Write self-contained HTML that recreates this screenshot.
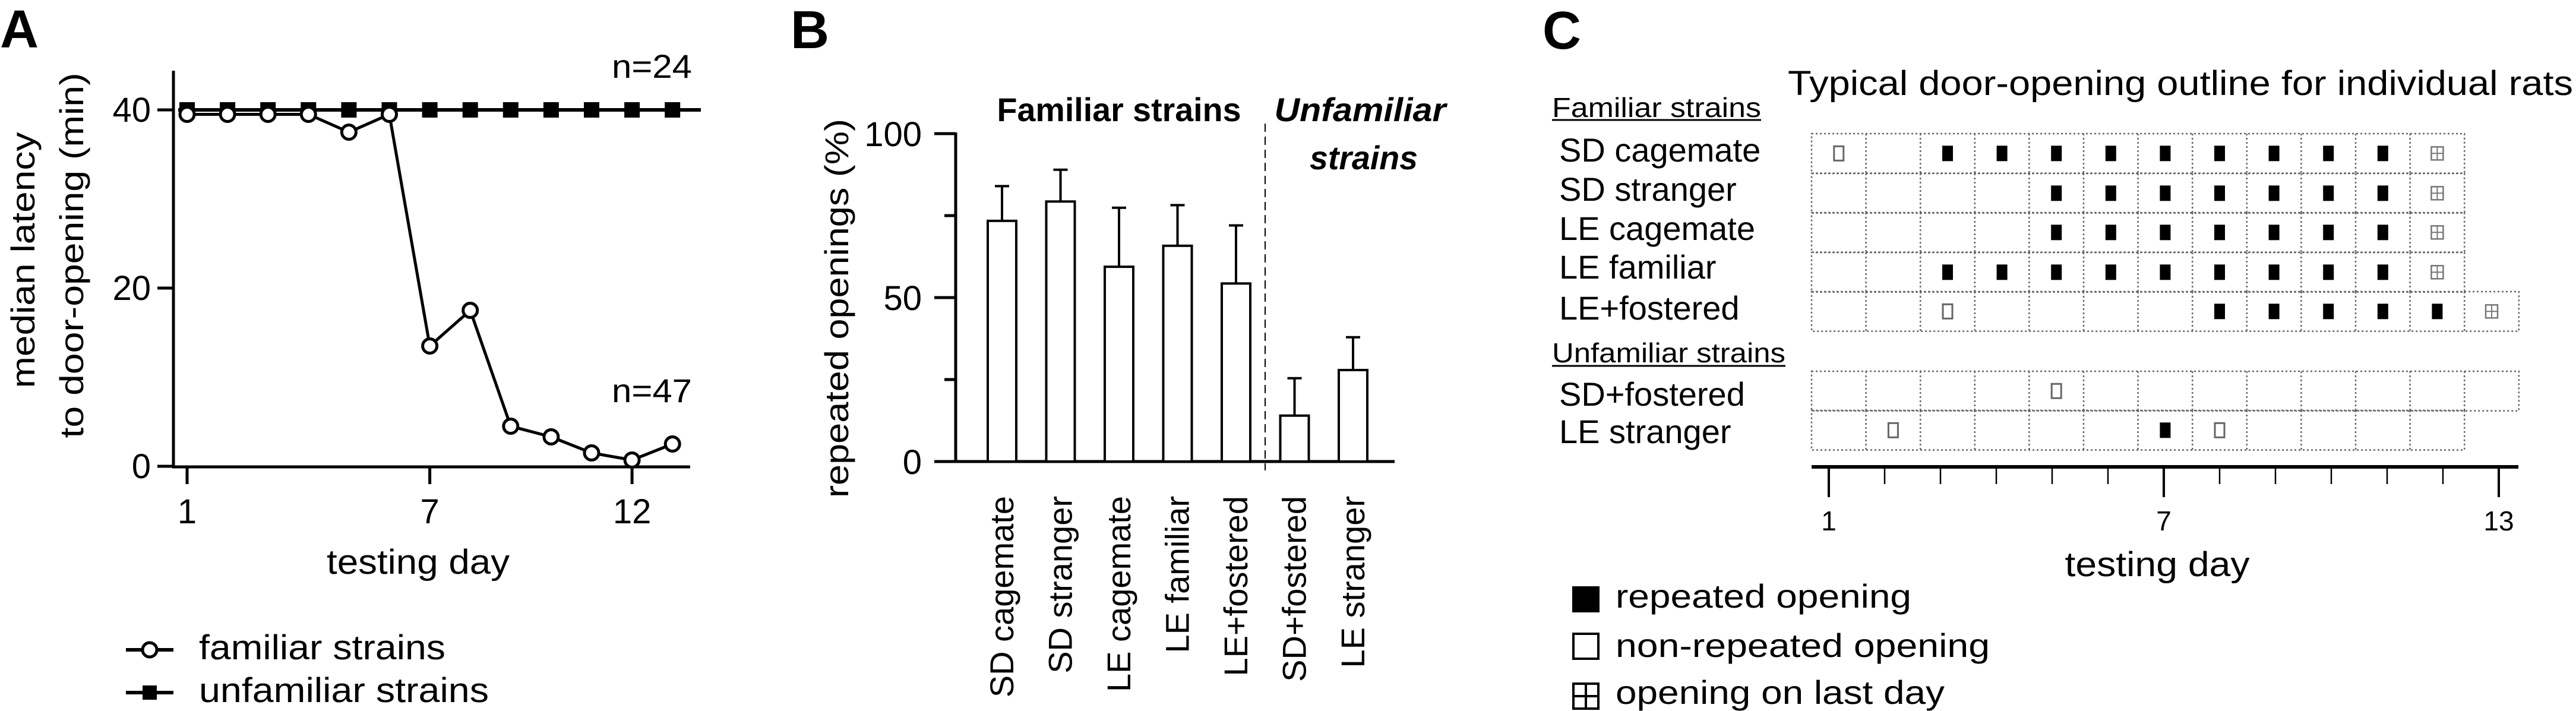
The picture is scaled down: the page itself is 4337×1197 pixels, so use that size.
<!DOCTYPE html>
<html><head><meta charset="utf-8"><style>
html,body{margin:0;padding:0;background:#fff;}
svg{display:block;font-family:"Liberation Sans",sans-serif;}
</style></head><body>
<svg id="fig" width="4337" height="1197" viewBox="0 0 4337 1197" xmlns="http://www.w3.org/2000/svg">
<rect width="4337" height="1197" fill="#fff"/>
<!-- Panel A static -->
<g id="panelA">
<text x="0" y="80" font-size="90" font-weight="bold">A</text>
<line x1="292" y1="119" x2="292" y2="788" stroke="#000" stroke-width="5"/>
<line x1="290" y1="786" x2="1162" y2="786" stroke="#000" stroke-width="5"/>
<text transform="translate(58,438) rotate(-90)" text-anchor="middle" font-size="56" textLength="431" lengthAdjust="spacingAndGlyphs">median latency</text>
<text transform="translate(140,430) rotate(-90)" text-anchor="middle" font-size="56" textLength="615" lengthAdjust="spacingAndGlyphs">to door-opening (min)</text>
<text x="704" y="966" text-anchor="middle" font-size="58" textLength="308" lengthAdjust="spacingAndGlyphs">testing day</text>
<text x="1030" y="131" font-size="56" textLength="135" lengthAdjust="spacingAndGlyphs">n=24</text>
<text x="1030" y="677" font-size="56" textLength="135" lengthAdjust="spacingAndGlyphs">n=47</text>
<g>
<line x1="212" y1="1094" x2="292" y2="1094" stroke="#000" stroke-width="6"/>
<circle cx="252" cy="1094" r="12" fill="#fff" stroke="#000" stroke-width="5"/>
<text x="335" y="1110" font-size="58" textLength="415" lengthAdjust="spacingAndGlyphs">familiar strains</text>
<line x1="212" y1="1166" x2="292" y2="1166" stroke="#000" stroke-width="6"/>
<rect x="240" y="1154" width="24" height="24" fill="#000"/>
<text x="335" y="1182" font-size="58" textLength="488" lengthAdjust="spacingAndGlyphs">unfamiliar strains</text>
</g>
</g>
<!-- Panel B static -->
<g id="panelB">
<text x="1331" y="81" font-size="90" font-weight="bold">B</text>
<line x1="1609" y1="223" x2="1609" y2="779" stroke="#000" stroke-width="5"/>
<line x1="1607" y1="777" x2="2348" y2="777" stroke="#000" stroke-width="5"/>
<line x1="2130" y1="208" x2="2130" y2="792" stroke="#000" stroke-width="2" stroke-dasharray="14,8"/>
<text transform="translate(1428,519) rotate(-90)" text-anchor="middle" font-size="56" textLength="638" lengthAdjust="spacingAndGlyphs">repeated openings (%)</text>
<text x="1884" y="204" text-anchor="middle" font-size="56" font-weight="bold" textLength="411" lengthAdjust="spacingAndGlyphs">Familiar strains</text>
<text x="2290" y="204" text-anchor="middle" font-size="56" font-weight="bold" font-style="italic" textLength="289" lengthAdjust="spacingAndGlyphs">Unfamiliar</text>
<text x="2296" y="285" text-anchor="middle" font-size="56" font-weight="bold" font-style="italic" textLength="182" lengthAdjust="spacingAndGlyphs">strains</text>
</g>
<!-- Panel C static -->
<g id="panelC">
<text x="2597" y="82" font-size="90" font-weight="bold">C</text>
<text x="3010" y="160" font-size="58" textLength="1322" lengthAdjust="spacingAndGlyphs">Typical door-opening outline for individual rats</text>
<text x="2613" y="197" font-size="46" textLength="352" lengthAdjust="spacingAndGlyphs">Familiar strains</text>
<line x1="2613" y1="202" x2="2965" y2="202" stroke="#000" stroke-width="3"/>
<text x="2613" y="610" font-size="46" textLength="393" lengthAdjust="spacingAndGlyphs">Unfamiliar strains</text>
<line x1="2613" y1="616" x2="3006" y2="616" stroke="#000" stroke-width="3"/>
<line x1="3050" y1="786" x2="4240" y2="786" stroke="#000" stroke-width="6"/>
<text x="3632" y="970" text-anchor="middle" font-size="58" textLength="311" lengthAdjust="spacingAndGlyphs">testing day</text>
<g>
<rect x="2647" y="987" width="46" height="44" fill="#000"/>
<text x="2720" y="1023" font-size="56" textLength="498" lengthAdjust="spacingAndGlyphs">repeated opening</text>
<rect x="2649" y="1067" width="42" height="42" fill="#fff" stroke="#000" stroke-width="4"/>
<text x="2720" y="1106" font-size="56" textLength="630" lengthAdjust="spacingAndGlyphs">non-repeated opening</text>
<rect x="2649" y="1151" width="42" height="42" fill="#fff" stroke="#000" stroke-width="4"/>
<line x1="2670" y1="1151" x2="2670" y2="1193" stroke="#000" stroke-width="4"/>
<line x1="2649" y1="1172" x2="2691" y2="1172" stroke="#000" stroke-width="4"/>
<text x="2720" y="1185" font-size="56" textLength="554" lengthAdjust="spacingAndGlyphs">opening on last day</text>
</g>
</g>
</svg>
<script>
// ---------- Panel A data ----------
const aDays = [1,2,3,4,5,6,7,8,9,10,11,12,13];
const aFamiliar = [39.5,39.5,39.5,39.5,37.5,39.5,13.5,17.5,4.5,3.3,1.5,0.7,2.5];
const aUnfamiliar = [40,40,40,40,40,40,40,40,40,40,40,40,40];
const aYTicks = [0,20,40];
const aXTicks = [1,7,12];
// ---------- Panel B data ----------
const bCategories = ["SD cagemate","SD stranger","LE cagemate","LE familiar","LE+fostered","SD+fostered","LE stranger"];
const bValues = [73.4,79.3,59.4,65.8,54.3,14,27.9];
const bErrors = [10.6,9.7,18,12.4,17.7,11.4,10];
const bYTicks = [0,50,100];
const bMinorTicks = [25,75];
// ---------- Panel C data ----------
const cRowLabels = ["SD cagemate","SD stranger","LE cagemate","LE familiar","LE+fostered","SD+fostered","LE stranger"];
const cRowDays = [12,12,12,12,13,13,12];
const cRowEvents = [
 "O.FFFFFFFFFL",
 "....FFFFFFFL",
 "....FFFFFFFL",
 "..FFFFFFFFFL",
 "..O....FFFFFL",
 "....O........",
 ".O....FO...."
];
const cXTicks = [1,2,3,4,5,6,7,8,9,10,11,12,13];
const cXTickLabels = [1,7,13];

const NS = "http://www.w3.org/2000/svg";
const svg = document.getElementById('fig');
function mk(tag, attrs, parent){const e=document.createElementNS(NS,tag);for(const k in attrs)e.setAttribute(k,attrs[k]);(parent||svg).appendChild(e);return e;}

// Panel A
const ax = d => 315 + (d-1)*68.1;
const ay = v => 785 - v*15;
const gA = document.getElementById('panelA');
aYTicks.forEach(t=>{
  const l=mk('line',{x1:265,x2:292,y1:ay(t),y2:ay(t),stroke:'#000','stroke-width':5},gA);
  
  
  const tx=mk('text',{x:254,y:ay(t)+20,'text-anchor':'end','font-size':58},gA);
  tx.textContent=t;
  
  
});
aXTicks.forEach(t=>{
  const l=mk('line',{x1:ax(t),x2:ax(t),y1:786,y2:815,stroke:'#000','stroke-width':5},gA);
  
  
  const tx=mk('text',{x:ax(t),y:881,'text-anchor':'middle','font-size':58},gA);
  tx.textContent=t;
  
  
});
const uLine=mk('line',{x1:300,x2:1180,y1:ay(aUnfamiliar[0]),y2:ay(aUnfamiliar[aUnfamiliar.length-1]),stroke:'#000','stroke-width':6},gA);


aDays.forEach((d,i)=>{
  const s=mk('rect',{x:ax(d)-13,y:ay(aUnfamiliar[i])-13,width:26,height:26,fill:'#000'},gA);
  
  
});
const fLine=mk('polyline',{points:aDays.map((d,i)=>ax(d)+','+ay(aFamiliar[i])).join(' '),fill:'none',stroke:'#000','stroke-width':5},gA);


aDays.forEach((d,i)=>{
  const c=mk('circle',{cx:ax(d),cy:ay(aFamiliar[i]),r:12,fill:'#fff',stroke:'#000','stroke-width':5},gA);
  
  
});

// Panel B
const bx = i => 1687 + i*98.5;
const by = v => 777 - v*5.52;
const gB = document.getElementById('panelB');
bYTicks.forEach(t=>{
  const l=mk('line',{x1:1573,x2:1609,y1:by(t),y2:by(t),stroke:'#000','stroke-width':5},gB);
  
  
  const tx=mk('text',{x:1552,y:by(t)+21,'text-anchor':'end','font-size':58},gB);
  tx.textContent=t;
  
  
});
bMinorTicks.forEach(t=>{
  const l=mk('line',{x1:1590,x2:1609,y1:by(t),y2:by(t),stroke:'#000','stroke-width':5},gB);
  
  
});
bCategories.forEach((c,i)=>{
  const eb=mk('line',{x1:bx(i),x2:bx(i),y1:by(bValues[i]),y2:by(bValues[i]+bErrors[i]),stroke:'#000','stroke-width':4},gB);
  
  
  const cap=mk('line',{x1:bx(i)-12,x2:bx(i)+12,y1:by(bValues[i]+bErrors[i]),y2:by(bValues[i]+bErrors[i]),stroke:'#000','stroke-width':4},gB);
  
  
  const r=mk('rect',{x:bx(i)-24,y:by(bValues[i]),width:48,height:by(0)-by(bValues[i]),fill:'#fff',stroke:'#000','stroke-width':4},gB);
  
  
  const tx=mk('text',{transform:'translate('+(bx(i)+19)+',835) rotate(-90)','text-anchor':'end','font-size':56},gB);
  tx.textContent=c;
  
  
});

// Panel C
const gC = document.getElementById('panelC');
const cellX = d => 3050 + (d-1)*91.6;
const rowTop = [225,292,358,425,491,625,691];
const rowH = 66.6;
const labelBase = [272,338,404,469,538,683,746];
cRowLabels.forEach((lab,r)=>{
  const tx=mk('text',{x:2625,y:labelBase[r],'font-size':56},gC);
  tx.textContent=lab;
  
  
  const rr=mk('rect',{x:3050,y:rowTop[r],width:cRowDays[r]*91.6,height:rowH,fill:'none',stroke:'#666','stroke-width':2.5,'stroke-dasharray':'3,4'},gC);
  
  
  for(let d=2; d<=cRowDays[r]; d++){
    mk('line',{x1:cellX(d),x2:cellX(d),y1:rowTop[r],y2:rowTop[r]+rowH,stroke:'#666','stroke-width':2.5,'stroke-dasharray':'3,4'},gC);
  }
  const ev=cRowEvents[r];
  for(let d=1; d<=ev.length; d++){
    const code=ev[d-1];
    const cx=cellX(d)+45.8, cy=rowTop[r]+rowH/2;
    if(code==='F'){
      const m=mk('rect',{x:cx-9,y:cy-13,width:18,height:26,fill:'#000'},gC);
      
      
    } else if(code==='O'){
      const m=mk('rect',{x:cx-8,y:cy-12,width:16,height:24,fill:'#fff',stroke:'#666','stroke-width':3},gC);
      
      
    } else if(code==='L'){
      const m=mk('rect',{x:cx-10,y:cy-11,width:20,height:22,fill:'#fff',stroke:'#777','stroke-width':2.5},gC);
      
      
      mk('line',{x1:cx,x2:cx,y1:cy-11,y2:cy+11,stroke:'#777','stroke-width':2},gC);
      mk('line',{x1:cx-10,x2:cx+10,y1:cy,y2:cy,stroke:'#777','stroke-width':2},gC);
    }
  }
});
const tX = d => 3079 + (d-1)*94;
cXTicks.forEach(d=>{
  const major=cXTickLabels.indexOf(d)>=0;
  const l=mk('line',{x1:tX(d),x2:tX(d),y1:786,y2:major?837:815,stroke:'#000','stroke-width':major?4:2.5},gC);
  
  
});
cXTickLabels.forEach(d=>{
  const tx=mk('text',{x:tX(d),y:893,'text-anchor':'middle','font-size':46},gC);
  tx.textContent=d;
  
  
});
</script>
</body></html>
